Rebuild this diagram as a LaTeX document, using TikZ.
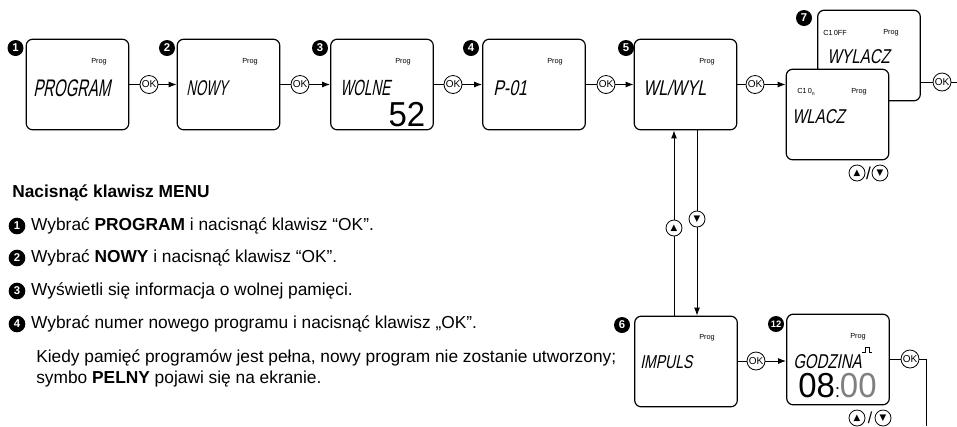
\documentclass[tikz,border=0pt]{standalone}
\usepackage{fontspec}
\setmainfont{Liberation Sans}
\newfontfamily\lcdfont[FakeStretch=0.62,FakeSlant=0.2]{Liberation Sans}
\newfontfamily\lcdwide[FakeStretch=0.75,FakeSlant=0.2]{Liberation Sans}
\newfontfamily\lcdnum[FakeStretch=0.95]{Liberation Sans}
\newfontfamily\symfont{DejaVu Sans}
\usetikzlibrary{arrows.meta,positioning}

\begin{document}
\begin{tikzpicture}[x=0.75pt, y=-0.75pt,
  every node/.style={inner sep=0pt},
  lcd/.style={draw, line width=0.9pt, rounded corners=5pt, fill=white, minimum width=77pt, minimum height=68pt},
  okbtn/.style={draw, circle, fill=white, line width=0.6pt, minimum size=13.5pt, font=\fontsize{7.5}{7.5}\selectfont},
  badge/.style={circle, fill=black, text=white, minimum size=12pt, font=\fontsize{8.5}{8.5}\selectfont\bfseries},
  prog/.style={font=\fontsize{5.5}{5.5}\selectfont},
  lcdtxt/.style={anchor=west, font=\lcdfont\fontsize{16}{16}\selectfont},
  lcdsmall/.style={anchor=west, font=\lcdwide\fontsize{15}{15}\selectfont},
  bigdig/.style={font=\lcdnum\fontsize{26}{26}\selectfont},
  keybtn/.style={draw, circle, line width=0.6pt, minimum size=12pt, font=\symfont\fontsize{6.5}{6.5}\selectfont},
  flow/.style={line width=0.7pt},
  flowarr/.style={line width=0.7pt, -{Latex[length=6pt,width=4.5pt]}},
  item/.style={anchor=west, font=\fontsize{13}{16}\selectfont},
  ibadge/.style={circle, fill=black, text=white, minimum size=12.5pt, font=\fontsize{8.5}{8.5}\selectfont\bfseries}]
  \useasboundingbox (0,0) rectangle (957,426);

  % top row of displays
  \node[lcd] (d1) at (77.5,84.5) {};
  \node[lcd] (d2) at (228.5,84.5) {};
  \node[lcd] (d3) at (382,84.5) {};
  \node[lcd] (d4) at (534,84.5) {};
  \node[lcd] (d5) at (685.5,84.5) {};
  \node[lcd] (d7b) at (869,55.5) {};
  \node[lcd] (d7a) at (837.5,114.5) {};
  % bottom row of displays
  \node[lcd] (d6) at (686,361.5) {};
  \node[lcd] (d12) at (838,359.5) {};

  % step numbers
  \node[badge] (b1) at (15.5,48) {1};
  \node[badge] (b2) at (167,48) {2};
  \node[badge] (b3) at (320,48) {3};
  \node[badge] (b4) at (471,48) {4};
  \node[badge] (b5) at (626,48) {5};
  \node[badge] (b7) at (804,18) {7};
  \node[badge] (b6) at (622,325) {6};
  \node[badge, font=\fontsize{7}{7}\selectfont\bfseries] (b12) at (776,324) {12};

  % display contents
  \node[prog] (p1) at (99,62) {Prog};
  \node[prog] (p2) at (250,62) {Prog};
  \node[prog] (p3) at (403,62) {Prog};
  \node[prog] (p4) at (555,62) {Prog};
  \node[prog] (p5) at (707,62) {Prog};
  \node[prog] (p7b) at (891,33) {Prog};
  \node[prog] (p7a) at (859,92) {Prog};
  \node[prog] (p6) at (707,338) {Prog};
  \node[prog] (p12) at (858,337) {Prog};
  \node[prog, anchor=west] (c7b) at (823,33) {C1\,0FF};
  \node[prog, anchor=west] (c7a) at (797,92) {C1\,0\textsubscript{n}};

  \node[lcdtxt, font=\lcdfont\fontsize{18}{18}\selectfont] (t1) at (33,88) {PROGRAM};
  \node[lcdtxt] (t2) at (186,88) {NOWY};
  \node[lcdtxt, font=\lcdfont\fontsize{16.5}{16.5}\selectfont] (t3) at (340,88) {WOLNE};
  \node[bigdig] (n3) at (407,114.5) {52};
  \node[lcdsmall, font=\lcdwide\fontsize{16}{16}\selectfont] (t4) at (493,88) {P-01};
  \node[lcdsmall, font=\lcdwide\fontsize{16}{16}\selectfont] (t5) at (643,88) {WL/WYL};
  \node[lcdsmall] (t7b) at (827,57) {WYLACZ};
  \node[lcdsmall] (t7a) at (792,117) {WLACZ};
  \node[lcdsmall, font=\lcdwide\fontsize{14}{14}\selectfont] (t6) at (640,362) {IMPULS};
  \node[lcdsmall] (t12) at (793,362) {GODZINA};
  \node[bigdig] (n12) at (837.5,386) {08{\fontsize{14}{14}\selectfont:}\textcolor{gray}{00}};
  \draw[line width=0.4pt] (862,352) -- (865,352) -- (865,347) -- (869,347) -- (869,352) -- (872,352);

  % OK keys
  \node[okbtn] (ok1) at (149,84.5) {OK};
  \node[okbtn] (ok2) at (300,84.5) {OK};
  \node[okbtn] (ok3) at (453,84.5) {OK};
  \node[okbtn] (ok4) at (606,84.5) {OK};
  \node[okbtn] (ok5) at (755,84.5) {OK};
  \node[okbtn] (ok7) at (942,82) {OK};
  \node[okbtn] (ok6) at (756,361) {OK};
  \node[okbtn] (ok12) at (910,359) {OK};
  \coordinate (out7) at (957,82);
  \coordinate (out12) at (926,426);

  % up/down keys
  \node[keybtn] (up5) at (674,228) {▲};
  \node[keybtn] (dn5) at (697,219) {▼};
  \node[keybtn] (up7) at (857,173) {▲};
  \node[font=\fontsize{13}{13}\selectfont] (sl7) at (868.5,173) {/};
  \node[keybtn] (dn7) at (880,173) {▼};
  \node[keybtn] (up12) at (857,418) {▲};
  \node[font=\fontsize{12}{12}\selectfont] (sl12) at (870,418) {/};
  \node[keybtn] (dn12) at (883,418) {▼};

  % connectors
  \draw[flow] (d1) -- (ok1);
  \draw[flowarr] (ok1) -- (d2);
  \draw[flow] (d2) -- (ok2);
  \draw[flowarr] (ok2) -- (d3);
  \draw[flow] (d3) -- (ok3);
  \draw[flowarr] (ok3) -- (d4);
  \draw[flow] (d4) -- (ok4);
  \draw[flowarr] (ok4) -- (d5);
  \draw[flow] (d5) -- (ok5);
  \draw[flowarr] (ok5) -- (ok5 -| d7a.west);
  \draw[flow] (d7b.east |- ok7) -- (ok7);
  \draw[flow] (ok7) -- (out7);
  \draw[flow] (up5 |- d6.north) -- (up5);
  \draw[flowarr] (up5) -- (up5 |- d5.south);
  \draw[flow] (dn5 |- d5.south) -- (dn5);
  \draw[flowarr] (dn5) -- (dn5 |- d6.north);
  \draw[flow] (d6.east |- ok6) -- (ok6);
  \draw[flowarr] (ok6) -- (ok6 -| d12.west);
  \draw[flow] (d12.east |- ok12) -- (ok12);
  \draw[flow] (ok12) -| (out12);

  % instructions
  \node[item, font=\fontsize{13}{16}\selectfont\bfseries] (head) at (12,193) {Nacisnąć klawisz MENU};
  \node[ibadge] (i1) at (17,226) {1};
  \node[ibadge] (i2) at (17,258) {2};
  \node[ibadge] (i3) at (17,291) {3};
  \node[ibadge] (i4) at (17,324) {4};
  \node[item, right=4pt of i1] (s1) {Wybrać \textbf{PROGRAM} i nacisnąć klawisz “OK”.};
  \node[item, right=4pt of i2] (s2) {Wybrać \textbf{NOWY} i nacisnąć klawisz “OK”.};
  \node[item, right=4pt of i3] (s3) {Wyświetli się informacja o wolnej pamięci.};
  \node[item, right=4pt of i4] (s4) {Wybrać numer nowego programu i nacisnąć klawisz „OK”.};
  \node[item] (s5) at (36,358) {Kiedy pamięć programów jest pełna, nowy program nie zostanie utworzony;};
  \node[item] (s6) at (36,379) {symbo \textbf{PELNY} pojawi się na ekranie.};
\end{tikzpicture}
\end{document}
